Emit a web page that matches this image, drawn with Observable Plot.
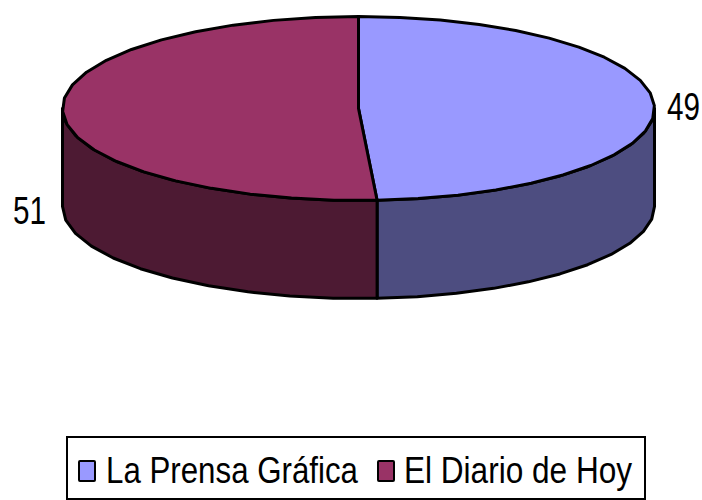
<!DOCTYPE html>
<html><head><meta charset="utf-8">
<script src="https://cdn.jsdelivr.net/npm/d3@7"></script>
<script src="https://cdn.jsdelivr.net/npm/@observablehq/plot@0.6"></script>
<style>
html,body{margin:0;padding:0;background:#fff;width:702px;height:500px;overflow:hidden}
svg{display:block}
#legend{position:absolute;left:66px;top:436px;width:576px;height:60px;border:2.5px solid #000;font-family:"Liberation Sans",Arial,sans-serif;font-size:36px;color:#000;white-space:nowrap}
#legend .sw{position:absolute;top:21.5px;width:14px;height:18px;border:2.5px solid #000;border-radius:2px}
#legend .tx{position:absolute;top:13px;line-height:40px;transform-origin:0 50%}
</style></head><body>
<div id="chart"></div><div id="legend"></div>
<script>
const categories = ["La Prensa Gráfica", "El Diario de Hoy"];
const values = [49, 51];
const topColors = ["#9999ff", "#993366"];
const sideColors = ["#4d4d80", "#4d1a33"];

const total = d3.sum(values);
const depth = 98 / 92;     // extrusion, in units of the ellipse's vertical radius
const step = Math.PI / 22; // the outline is a coarse polygon
const arc = (a0, a1, dy = 0) => {
  const n = Math.max(1, Math.round((a1 - a0) / step));
  return d3.range(n + 1).map(i => {
    const a = a0 + (a1 - a0) * i / n;
    return {x: Math.sin(a), y: Math.cos(a) - dy};
  });
};
let acc = 0;
const slices = values.map((v, i) => {
  const a0 = acc / total * 2 * Math.PI;
  acc += v;
  return {a0, a1: acc / total * 2 * Math.PI, i};
});
const sidePoly = s => {
  const a0 = Math.max(s.a0, Math.PI / 2), a1 = Math.min(s.a1, 3 * Math.PI / 2);
  const t = arc(a0, a1), b = arc(a0, a1, depth).reverse();
  return [...t, ...b, t[0]];
};
const topPoly = s => {
  const p = arc(s.a0, s.a1), c = {x: 0, y: 0};
  return [c, ...p, c];
};
const lineOpts = fill => ({x: "x", y: "y", fill, stroke: "#000", strokeWidth: 3, strokeLinejoin: "round", curve: "linear"});
const labels = slices.map(s => {
  const m = (s.a0 + s.a1) / 2, lower = m > Math.PI;
  return {text: String(values[s.i]), x: Math.sin(m) * 1.105, y: Math.cos(m) - (lower ? depth : 0)};
});

const plot = Plot.plot({
  width: 702, height: 430, margin: 0,
  x: {domain: [-1, 1], range: [62, 654], axis: null},
  y: {domain: [-1, 1], range: [200, 16], axis: null},
  marks: [
    ...slices.map(s => Plot.line(sidePoly(s), lineOpts(sideColors[s.i]))),
    ...slices.map(s => Plot.line(topPoly(s), lineOpts(topColors[s.i]))),
    Plot.text(labels, {x: "x", y: "y", text: "text", dx: -2, dy: 2, fontSize: 38, fontFamily: "Liberation Sans, Arial, sans-serif", fill: "#000", textAnchor: "middle", lineAnchor: "middle"})
  ]
});
document.getElementById("chart").append(plot);
// The reference's type is horizontally condensed
plot.querySelectorAll("text").forEach(t => {
  t.setAttribute("textLength", 33);
  t.setAttribute("lengthAdjust", "spacingAndGlyphs");
});

const swatchX = [9.5, 308.5], textX = [37.5, 335.5], textW = [252, 228];
const legend = document.getElementById("legend");
categories.forEach((c, i) => {
  const s = document.createElement("span");
  s.className = "sw"; s.style.left = swatchX[i] + "px"; s.style.background = topColors[i];
  const t = document.createElement("span");
  t.className = "tx"; t.style.left = textX[i] + "px"; t.textContent = c;
  legend.append(s, t);
  t.style.transform = `scaleX(${textW[i] / t.getBoundingClientRect().width})`;
});
</script></body></html>
